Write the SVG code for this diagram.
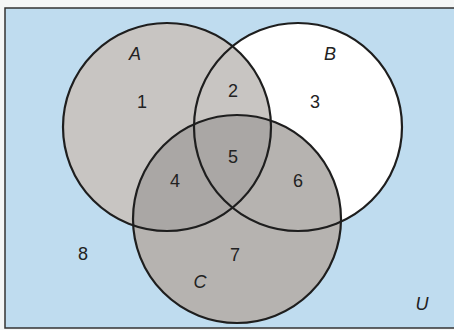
<svg xmlns="http://www.w3.org/2000/svg" width="454" height="330" viewBox="0 0 454 330">
  <style>
    .lbl { font-family: "Liberation Sans", Arial, sans-serif; font-size: 18px; fill: #222; text-anchor: middle; }
    .it { font-style: italic; }
    .ring { fill: none; stroke: #1e1e1e; stroke-width: 2.2; }
  </style>
  <defs>
    <clipPath id="clipA"><circle cx="167" cy="127" r="104"/></clipPath>
  </defs>
  <rect x="0" y="0" width="454" height="330" fill="#f4f6f6"/>
  <rect id="universe" x="5" y="8" width="452" height="320" fill="#bfdcef" stroke="#333" stroke-width="1.5"/>
  <g id="fills">
    <circle cx="298" cy="127" r="104" fill="#ffffff"/>
    <circle cx="167" cy="127" r="104" fill="#c8c5c2"/>
    <circle cx="237" cy="219" r="104" fill="#b6b3b0"/>
    <circle cx="237" cy="219" r="104" fill="#aaa7a5" clip-path="url(#clipA)"/>
  </g>
  <g id="setA">
    <circle class="ring" cx="167" cy="127" r="104"/>
    <text class="lbl it" x="135" y="60">A</text>
  </g>
  <g id="setB">
    <circle class="ring" cx="298" cy="127" r="104"/>
    <text class="lbl it" x="330" y="60">B</text>
  </g>
  <g id="setC">
    <circle class="ring" cx="237" cy="219" r="104"/>
    <text class="lbl it" x="200" y="288">C</text>
  </g>
  <g id="regions">
    <text class="lbl" x="142" y="108">1</text>
    <text class="lbl" x="233" y="97">2</text>
    <text class="lbl" x="315" y="108">3</text>
    <text class="lbl" x="175" y="187">4</text>
    <text class="lbl" x="233" y="163">5</text>
    <text class="lbl" x="298" y="187">6</text>
    <text class="lbl" x="235" y="261">7</text>
    <text class="lbl" x="83" y="260">8</text>
    <text class="lbl it" x="422" y="310">U</text>
  </g>
</svg>
